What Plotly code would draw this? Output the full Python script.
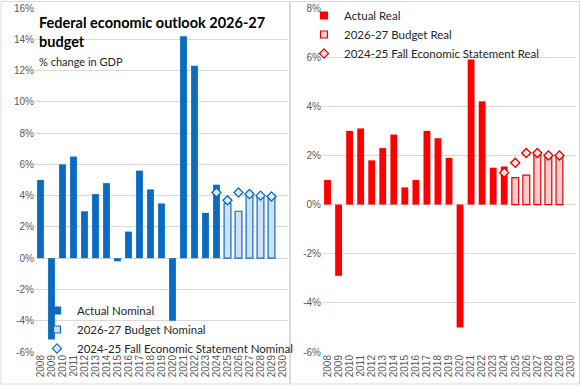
import plotly.graph_objects as go

W, H = 581, 388

years = list(range(2008, 2031))
actual_years = list(range(2008, 2025))
proj_years = list(range(2025, 2030))
fes_years = list(range(2024, 2030))

actual_nominal = [5.0, -5.2, 6.0, 6.5, 3.0, 4.1, 4.8, -0.2, 1.7, 5.6, 4.4, 3.5, -4.0, 14.2, 12.3, 2.9, 4.7]
budget_nominal = [3.5, 3.0, 4.1, 4.0, 4.0]
fes_nominal = [4.2, 3.7, 4.2, 4.1, 4.0, 3.95]

actual_real = [1.0, -2.9, 3.0, 3.1, 1.8, 2.3, 2.85, 0.7, 1.0, 3.0, 2.7, 1.9, -5.0, 5.9, 4.2, 1.5, 1.55]
budget_real = [1.1, 1.2, 2.0, 1.9, 2.0]
fes_real = [1.3, 1.7, 2.1, 2.1, 2.0, 2.0]

left_ticks = [16, 14, 12, 10, 8, 6, 4, 2, 0, -2, -4, -6]
right_ticks = [8, 6, 4, 2, 0, -2, -4, -6]

BLUE = "#0B6BC2"
BLUE_LIGHT = "#CFE0F7"
RED = "#FF0000"
RED_DARK = "#E00000"
RED_LIGHT = "#FBCBCB"
GRID = "#D9D9D9"
TICKC = "#595959"
FONT = "Lato"


def pct(v):
    return ("-" if v < 0 else "") + f"{abs(v)}%"


fig = go.Figure()


def legend_entry(name, symbol, fill, outline, legend, size=7):
    fig.add_trace(go.Scatter(x=[None], y=[None], mode="markers", name=name,
                             marker=dict(symbol=symbol, size=size, color=fill, line=dict(color=outline, width=1.2)),
                             legend=legend, showlegend=True, hoverinfo="skip"))


# Left panel (nominal)
fig.add_trace(go.Bar(x=actual_years, y=actual_nominal, name="Actual Nominal",
                     marker=dict(color=BLUE, line=dict(width=0)), width=0.62,
                     xaxis="x", yaxis="y", showlegend=False))
fig.add_trace(go.Bar(x=proj_years, y=budget_nominal, name="2026-27 Budget Nominal",
                     marker=dict(color=BLUE_LIGHT, line=dict(color=BLUE, width=1.2)), width=0.62,
                     xaxis="x", yaxis="y", showlegend=False))
fig.add_trace(go.Scatter(x=fes_years, y=fes_nominal, name="2024-25 Fall Economic Statement Nominal",
                         mode="markers",
                         marker=dict(symbol="diamond", size=7, color="#DDEBFA", line=dict(color=BLUE, width=1.3)),
                         xaxis="x", yaxis="y", showlegend=False))

# Right panel (real)
fig.add_trace(go.Bar(x=actual_years, y=actual_real, name="Actual Real",
                     marker=dict(color=RED, line=dict(width=0)), width=0.62,
                     xaxis="x2", yaxis="y2", showlegend=False))
fig.add_trace(go.Bar(x=proj_years, y=budget_real, name="2026-27 Budget Real",
                     marker=dict(color=RED_LIGHT, line=dict(color=RED_DARK, width=1.2)), width=0.62,
                     xaxis="x2", yaxis="y2", showlegend=False))
fig.add_trace(go.Scatter(x=fes_years, y=fes_real, name="2024-25 Fall Economic Statement Real",
                         mode="markers",
                         marker=dict(symbol="diamond", size=7, color="#FDE0E0", line=dict(color=RED_DARK, width=1.3)),
                         xaxis="x2", yaxis="y2", showlegend=False))

# Legend entries (small symbols like the reference)
legend_entry("Actual Nominal", "square", BLUE, BLUE, "legend")
legend_entry("2026-27 Budget Nominal", "square", BLUE_LIGHT, BLUE, "legend")
legend_entry("2024-25 Fall Economic Statement Nominal", "diamond", "#DDEBFA", BLUE, "legend")
legend_entry("Actual Real", "square", RED, RED, "legend2")
legend_entry("2026-27 Budget Real", "square", RED_LIGHT, RED_DARK, "legend2")
legend_entry("2024-25 Fall Economic Statement Real", "diamond", "#FDE0E0", RED_DARK, "legend2")

ydom = [1 - 352 / H, 1 - 8 / H]

axis_common = dict(showline=False, ticks="", zeroline=True, zerolinecolor=GRID, zerolinewidth=1,
                   gridcolor=GRID, gridwidth=1, tickfont=dict(family="Liberation Sans", size=10, color=TICKC))

xaxis_common = dict(tickmode="array", tickvals=years, ticktext=[str(y) for y in years],
                    tickangle=-90, range=[2007.5, 2030.5], showgrid=False, showline=False, ticks="",
                    zeroline=False, tickfont=dict(family="Liberation Sans", size=10, color=TICKC))

fig.update_layout(
    width=W, height=H,
    margin=dict(l=0, r=0, t=0, b=0, autoexpand=False),
    paper_bgcolor="white", plot_bgcolor="white",
    barmode="overlay",
    showlegend=True,
    xaxis=dict(domain=[35 / W, 288 / W], anchor="y", **xaxis_common),
    yaxis=dict(domain=ydom, anchor="x", range=[-6, 16],
               tickmode="array", tickvals=left_ticks, ticktext=[pct(v) for v in left_ticks], **axis_common),
    xaxis2=dict(domain=[322 / W, 576 / W], anchor="y2", **xaxis_common),
    yaxis2=dict(domain=ydom, anchor="x2", range=[-6, 8],
                tickmode="array", tickvals=right_ticks, ticktext=[pct(v) for v in right_ticks], **axis_common),
    legend=dict(x=37 / W, y=1 - 296 / H, xanchor="left", yanchor="top", bgcolor="rgba(0,0,0,0)",
                font=dict(family=FONT, size=11.5, color="#262626"), tracegroupgap=0,
                itemsizing="trace"),
    legend2=dict(x=304 / W, y=1 - 1 / H, xanchor="left", yanchor="top", bgcolor="rgba(0,0,0,0)",
                 font=dict(family=FONT, size=11.5, color="#262626"), tracegroupgap=0,
                 itemsizing="trace"),
    annotations=[
        dict(text="<b>Federal economic outlook 2026-27<br>budget</b>", x=37 / W, y=1 - 12 / H,
             xref="paper", yref="paper", xanchor="left", yanchor="top", align="left", showarrow=False,
             font=dict(family=FONT, size=14.5, color="black")),
        dict(text="% change in GDP", x=37 / W, y=1 - 53 / H,
             xref="paper", yref="paper", xanchor="left", yanchor="top", align="left", showarrow=False,
             font=dict(family=FONT, size=11, color="#262626")),
    ],
    shapes=[
        dict(type="rect", xref="paper", yref="paper", x0=1 / W, x1=289.5 / W, y0=1 - 384 / H, y1=1 - 1.5 / H,
             line=dict(color="#D9D9D9", width=1)),
        dict(type="rect", xref="paper", yref="paper", x0=290.5 / W, x1=579.5 / W, y0=1 - 384 / H, y1=1 - 1.5 / H,
             line=dict(color="#D9D9D9", width=1)),
    ],
)

fig.write_html("out.html", config={"displayModeBar": False},
               post_script="document.body.style.margin='0';document.body.style.overflow='hidden';")
